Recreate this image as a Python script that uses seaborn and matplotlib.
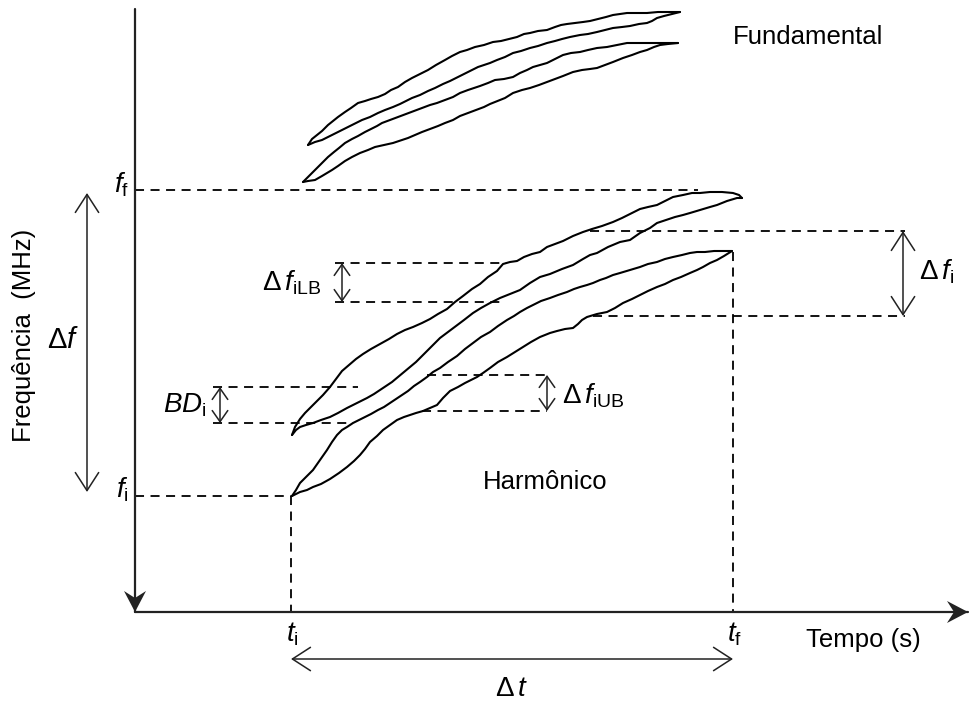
import matplotlib
matplotlib.use("Agg")
import matplotlib.pyplot as plt
import seaborn as sns
import pandas as pd

sns.set_theme(style="white")
plt.rcParams["font.family"] = ["Liberation Sans", "DejaVu Sans"]
plt.rcParams["text.color"] = "black"
plt.rcParams["mathtext.fontset"] = "custom"
plt.rcParams["mathtext.rm"] = "Liberation Sans"
plt.rcParams["mathtext.it"] = "Liberation Sans:italic"
plt.rcParams["mathtext.bf"] = "Liberation Sans:bold"

# ---- sweep traces (time, frequency) in drawing units -------------------
fund_a_top = [(308,145),(312,139),(317,135),(322,131),(328,125),(333,121),(338,117),(345,112),(351,108),
              (358,103),(365,101),(371,99),(378,97),(385,94),(391,90),(398,87),(405,82),(412,78),(420,74),
              (428,70),(436,65),(445,60),(452,56),(460,52),(467,50),(475,47),(484,45),(493,42),(501,41),
              (509,39),(517,37),(524,34),(530,33),(538,31),(547,30),(555,27),(561,25),(567,24),(575,23),
              (583,22),(590,21),(598,19),(606,17),(613,15),(620,14),(627,13),(637,13),(647,13),(658,12),
              (668,12),(680,12)]
fund_a_bot = [(308,145),(315,142),(322,140),(330,136),(338,132),(346,128),(354,124),(362,120),(370,117),
              (378,113),(385,110),(393,107),(400,104),(406,101),(412,98),(420,95),(428,91),(435,88),
              (443,84),(450,81),(456,78),(462,75),(470,71),(478,67),(484,65),(490,63),(497,60),(505,57),
              (513,53),(521,51),(530,48),(538,46),(547,43),(555,41),(562,39),(570,37),(580,35),(588,34),
              (597,32),(605,30),(613,28),(622,27),(630,26),(639,24),(647,23),(652,21),(657,18),(664,16),
              (672,14),(680,12)]
fund_b_top = [(303,182),(307,178),(311,174),(315,170),(320,165),(324,161),(328,157),(334,152),(339,148),
              (345,143),(352,139),(358,136),(365,132),(371,129),(377,126),(382,123),(390,120),(398,117),
              (406,114),(414,111),(422,108),(430,105),(437,103),(445,100),(453,97),(460,93),(468,90),
              (474,88),(480,86),(488,83),(495,80),(504,79),(513,77),(520,73),(527,70),(533,67),(540,65),
              (547,63),(555,59),(563,55),(571,53),(580,52),(588,50),(597,48),(607,47),(617,45),(627,43),
              (637,43),(647,43),(658,43),(668,43),(678,43)]
fund_b_bot = [(303,182),(308,181),(315,180),(322,176),(327,173),(332,170),(338,166),(345,161),(352,157),
              (360,153),(368,150),(375,147),(384,145),(393,143),(402,140),(408,138),(415,135),(422,132),
              (430,129),(438,126),(445,123),(453,120),(460,116),(468,113),(476,110),(484,107),(490,104),
              (495,102),(505,98),(513,93),(522,90),(530,88),(539,85),(547,82),(555,79),(563,76),(573,72),
              (582,70),(590,69),(597,68),(605,65),(613,62),(623,58),(632,55),(640,52),(647,50),(654,47),
              (660,45),(668,44),(678,43)]
harm_a_top = [(292,435),(295,427),(300,419),(305,413),(311,407),(317,401),(323,395),(330,387),(336,379),
              (342,371),(349,365),(356,359),(363,354),(371,349),(380,344),(389,339),(397,334),(405,330),
              (413,327),(422,323),(430,319),(438,314),(447,309),(455,302),(463,296),(472,289),(480,284),
              (488,277),(497,271),(503,264),(510,262),(517,261),(524,257),(532,254),(540,252),(547,247),
              (555,244),(563,241),(573,236),(583,232),(592,229),(602,226),(613,222),(622,218),(632,213),
              (640,209),(648,207),(657,205),(665,201),(673,197),(683,195),(692,193),(700,193),(710,192),
              (722,192),(733,193),(739,195),(742,198)]
harm_a_bot = [(292,435),(296,430),(300,427),(306,425),(313,423),(321,420),(330,417),(338,413),(347,408),
              (357,403),(367,398),(374,394),(380,390),(386,386),(392,382),(398,377),(404,372),(410,367),
              (416,362),(422,356),(428,350),(434,344),(440,338),(448,332),(456,326),(464,320),(473,313),
              (481,308),(490,303),(500,298),(510,294),(520,290),(530,283),(540,277),(550,274),(562,269),
              (573,265),(583,259),(590,255),(597,253),(608,247),(620,242),(630,240),(640,233),(650,228),
              (657,223),(666,220),(675,217),(683,215),(690,213),(700,210),(710,207),(717,205),(727,201),
              (737,198),(742,198)]
harm_b_top = [(292,496),(296,490),(300,483),(306,477),(313,470),(320,460),(327,450),(332,442),(337,435),
              (342,430),(347,427),(353,423),(359,420),(365,417),(371,414),(378,410),(384,407),(390,403),
              (396,399),(402,395),(408,391),(414,386),(420,382),(427,377),(433,372),(440,368),(448,362),
              (457,356),(465,349),(473,343),(481,337),(490,332),(498,326),(507,320),(514,316),(520,312),
              (527,308),(533,305),(541,301),(550,298),(558,295),(567,292),(574,289),(580,287),(587,285),
              (593,283),(600,280),(606,278),(613,275),(620,273),(630,270),(640,267),(648,264),(657,262),
              (665,259),(673,257),(682,255),(690,253),(697,252),(705,252),(714,251),(723,251),(732,251)]
harm_b_bot = [(292,496),(300,492),(307,490),(313,487),(321,484),(330,479),(339,473),(347,467),(354,461),
              (360,455),(365,449),(370,442),(377,436),(383,430),(390,425),(397,420),(404,417),(410,415),
              (416,413),(423,411),(430,408),(437,405),(443,398),(450,391),(458,387),(465,383),(471,380),
              (477,377),(483,373),(490,368),(498,362),(507,357),(515,352),(523,347),(531,342),(540,337),
              (550,333),(557,331),(565,329),(573,328),(578,324),(582,320),(587,317),(597,314),(607,312),
              (615,308),(623,303),(632,299),(640,295),(648,291),(657,287),(665,284),(673,280),(681,277),
              (690,273),(697,270),(703,267),(710,263),(717,260),(724,256),(732,251)]

traces = {"fund_a_top": fund_a_top, "fund_a_bot": fund_a_bot,
          "fund_b_top": fund_b_top, "fund_b_bot": fund_b_bot,
          "harm_a_top": harm_a_top, "harm_a_bot": harm_a_bot,
          "harm_b_top": harm_b_top, "harm_b_bot": harm_b_bot}

# ---- reference levels ----------------------------------------------------
x_origin, y_origin = 135, 612          # axes corner
y_axis_top, x_axis_end = 9, 968
t_i, t_f = 291, 733
f_i, f_f = 496, 190
# guide segments: (y, x_start, x_end)
guides_h = [(f_f, x_origin, 698), (f_i, x_origin, t_i),
            (387, 213, 358), (423, 213, 353),      # BD_i
            (263, 335, 507), (302, 335, 500),      # delta f_iLB
            (375, 427, 547), (411, 422, 547),      # delta f_iUB
            (231, 590, 905), (316, 593, 905)]      # delta f_i
guides_v = [(t_i, f_i, y_origin), (t_f, 252, y_origin)]
# double arrows: (x0, y0, x1, y1, head_len, head_w)
spans = [(87, 193, 87, 492, 0.65, 0.42),
         (220, 387, 220, 423, 0.40, 0.28),
         (342, 263, 342, 302, 0.40, 0.28),
         (547, 375, 547, 411, 0.40, 0.28),
         (903, 231, 903, 316, 0.65, 0.42),
         (t_i, 659, t_f, 659, 0.65, 0.42)]

rows = []
for name, pts in traces.items():
    for i, (x, y) in enumerate(pts):
        rows.append({"trace": name, "order": i, "t": x, "f": y})
df = pd.DataFrame(rows)

fig = plt.figure(figsize=(9.70, 7.02), dpi=100)
ax = fig.add_axes([0, 0, 1, 1])
ax.set_xlim(0, 970)
ax.set_ylim(702, 0)
ax.axis("off")

sns.lineplot(data=df, x="t", y="f", units="trace", estimator=None, sort=False,
             color="black", lw=1.5, ax=ax, legend=False)

dash = (0, (5, 3.6))
for y, x0, x1 in guides_h:
    ax.plot([x0, x1], [y, y], color="black", lw=1.3, ls=dash)
for x, y0, y1 in guides_v:
    ax.plot([x, x], [y0, y1], color="black", lw=1.3, ls=dash)

# axes with filled arrow heads
axis_col = "#222222"
ax.plot([x_origin, x_origin], [y_axis_top, y_origin], color=axis_col, lw=1.6)
ax.plot([x_origin, x_axis_end], [y_origin, y_origin], color=axis_col, lw=1.6)
hl, hw, notch = 21, 11, 7
ax.fill([x_origin, x_origin - hw, x_origin, x_origin + hw],
        [y_origin, y_origin - hl, y_origin - hl + notch, y_origin - hl],
        color=axis_col, lw=0)
ax.fill([x_axis_end, x_axis_end - hl, x_axis_end - hl + notch, x_axis_end - hl],
        [y_origin, y_origin - hw, y_origin, y_origin + hw],
        color=axis_col, lw=0)

for x0, y0, x1, y1, hlen, hwid in spans:
    ax.annotate("", xy=(x1, y1), xytext=(x0, y0),
                arrowprops=dict(arrowstyle=f"<->,head_length={hlen},head_width={hwid}",
                                color="#222222", lw=1.1, shrinkA=0, shrinkB=0,
                                mutation_scale=20))

fs = 18.5
ax.text(808, 37, "Fundamental", fontsize=fs, ha="center", va="center")
ax.text(545, 482, "Harmônico", fontsize=fs, ha="center", va="center")
ax.text(863, 640, "Tempo (s)", fontsize=fs, ha="center", va="center")
ax.text(24, 335, "Frequência  (MHz)", fontsize=fs, ha="center", va="center", rotation=90)

ms = 20
ax.text(122, 185, r"$f_{\mathrm{f}}$", fontsize=ms, ha="center", va="center")
ax.text(122, 490, r"$f_{\mathrm{i}}$", fontsize=ms, ha="center", va="center")
ax.text(292, 634, r"$t_{\mathrm{i}}$", fontsize=ms, ha="center", va="center")
ax.text(735, 634, r"$t_{\mathrm{f}}$", fontsize=ms, ha="center", va="center")
ax.text(63, 340, r"$\Delta f$", fontsize=21, ha="center", va="center")
ax.text(512, 689, r"$\Delta\,t$", fontsize=ms, ha="center", va="center")
ax.text(185, 405, r"$BD_{\mathrm{i}}$", fontsize=ms, ha="center", va="center")
ax.text(292, 283, r"$\Delta\,f_{\mathrm{iLB}}$", fontsize=ms, ha="center", va="center")
ax.text(593, 396, r"$\Delta\,f_{\mathrm{iUB}}$", fontsize=ms, ha="center", va="center")
ax.text(937, 272, r"$\Delta\,f_{\mathrm{i}}$", fontsize=ms, ha="center", va="center")

fig.savefig("out.png", dpi=100, facecolor="white")
